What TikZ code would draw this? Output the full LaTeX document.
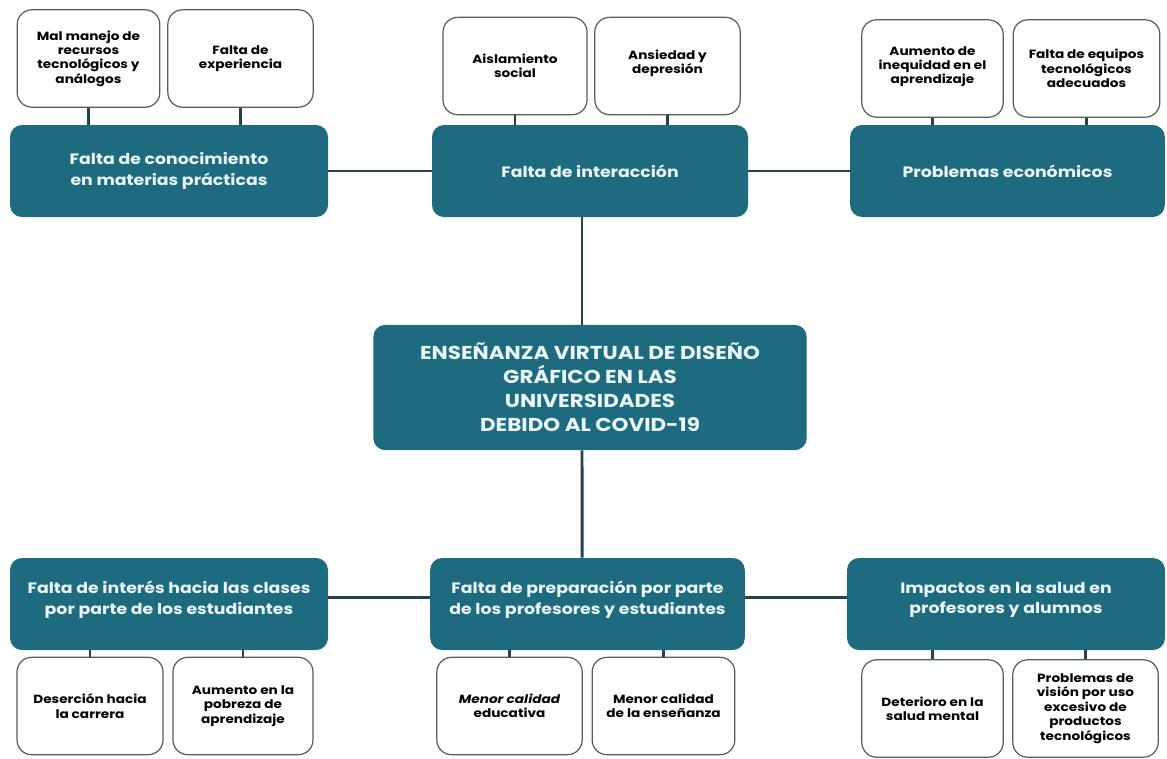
\documentclass[tikz,border=0pt]{standalone}
\usepackage{fontspec}
\setmainfont{Poppins}[FakeStretch=1.15]
\definecolor{teal1}{HTML}{1E6A7F}
\definecolor{lnk}{HTML}{23434B}
\definecolor{txtw}{HTML}{EAF8FC}
\definecolor{brd}{HTML}{5A5A5A}
\begin{document}
\begin{tikzpicture}[x=0.75pt,y=-0.75pt,
  mainbox/.style={draw=none,fill=teal1,rounded corners=9pt,text=txtw,align=center,
    font=\fontsize{11.3}{15.5}\selectfont\bfseries,minimum height=69pt,inner sep=2pt},
  subbox/.style={draw=brd,line width=0.9pt,fill=white,rounded corners=11pt,align=center,
    font=\fontsize{8.9}{10.8}\selectfont\bfseries,minimum height=73pt,inner sep=1pt},
  link/.style={draw=lnk,line width=2.2pt}]
\useasboundingbox (0,0) rectangle (1167,758);
% top main boxes
\node[mainbox,minimum width=238.5pt] (MA) at (169,171) {Falta de conocimiento\\en materias prácticas};
\node[mainbox,minimum width=237pt] (MB) at (590,171) {Falta de interacción};
\node[mainbox,minimum width=236pt] (MC) at (1007.5,171) {Problemas económicos};
% top sub boxes
\node[subbox,minimum width=107pt] (A1) at (88.5,58.5) {Mal manejo de\\recursos\\tecnológicos y\\análogos};
\node[subbox,minimum width=109pt] (A2) at (240.5,58.5) {Falta de\\experiencia};
\node[subbox,minimum width=108pt] (B1) at (515,66) {Aislamiento\\social};
\node[subbox,minimum width=109pt,text depth=6pt] (B2) at (667.5,66) {Ansiedad y\\depresión};
\node[subbox,minimum width=106pt,text depth=5pt] (C1) at (932.5,68.5) {Aumento de\\inequidad en el\\aprendizaje};
\node[subbox,minimum width=110pt] (C2) at (1086.5,68.5) {Falta de equipos\\tecnológicos\\adecuados};
% center
\node[mainbox,minimum width=325pt,minimum height=94pt,font=\fontsize{14}{18}\selectfont\bfseries] (CT) at (590,387.5)
  {ENSEÑANZA VIRTUAL DE DISEÑO\\GRÁFICO EN LAS\\UNIVERSIDADES\\DEBIDO AL COVID-19};
% bottom main boxes
\node[mainbox,minimum width=238.5pt,text depth=9pt] (MD) at (169,604) {Falta de interés hacia las clases\\por parte de los estudiantes};
\node[mainbox,minimum width=236pt,text depth=9pt] (ME) at (587.5,604) {Falta de preparación por parte\\de los profesores y estudiantes};
\node[mainbox,minimum width=238.5pt,text depth=9pt] (MF) at (1006,604) {Impactos en la salud en\\profesores y alumnos};
% bottom sub boxes
\node[subbox,minimum width=109.5pt] (D1) at (90,706) {Deserción hacia\\la carrera};
\node[subbox,minimum width=105pt] (D2) at (243,706) {Aumento en la\\pobreza de\\aprendizaje};
\node[subbox,minimum width=109pt] (E1) at (509.5,706) {\itshape Menor calidad\\educativa};
\node[subbox,minimum width=107pt] (E2) at (663.5,706) {Menor calidad\\de la enseñanza};
\node[subbox,minimum width=106pt] (F1) at (932.5,708.5) {Deterioro en la\\salud mental};
\node[subbox,minimum width=109pt] (F2) at (1085.5,708.5) {Problemas de\\visión por uso\\excesivo de\\productos\\tecnológicos};
% connectors
\draw[link] (MA.east) -- (MB.west);
\draw[link] (MB.east) -- (MC.west);
\draw[link] ([yshift=5pt]MD.east) -- ([yshift=5pt]ME.west);
\draw[link] ([yshift=5pt]ME.east) -- ([yshift=5pt]MF.west);
\draw[link] ([xshift=-6pt]MB.south) -- ([xshift=-6pt]CT.north);
\draw[link] ([xshift=-6pt]CT.south) -- ([xshift=-4pt]ME.north);
\foreach \s/\m in {A1/MA,A2/MA,B1/MB,B2/MB,C1/MC,C2/MC}{
  \draw[link] (\s.south) -- (\s.south |- \m.north);}
\foreach \s/\m in {D1/MD,D2/MD,E1/ME,E2/ME,F1/MF,F2/MF}{
  \draw[link] (\s.north) -- (\s.north |- \m.south);}
\end{tikzpicture}
\end{document}
